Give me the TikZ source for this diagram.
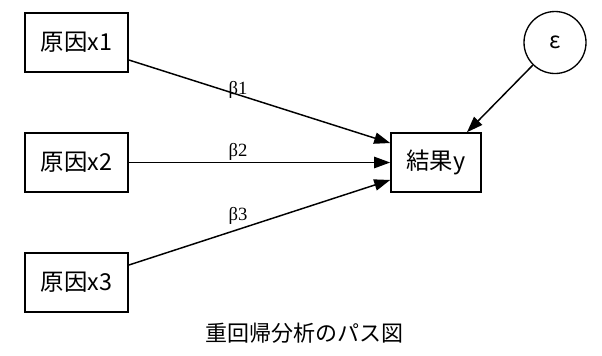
\documentclass[tikz,border=0pt]{standalone}
\usepackage{fontspec}
\setmainfont{Liberation Serif}
\newfontfamily\jpfont{Noto Sans CJK JP}
\usetikzlibrary{arrows.meta}
\begin{document}
\begin{tikzpicture}[x=0.75pt,y=-0.75pt,
  box/.style={draw, line width=1.2pt, minimum width=77.25pt, minimum height=44.25pt, inner sep=0pt, font=\jpfont\fontsize{17.5}{20}\selectfont},
  errc/.style={draw, circle, line width=1pt, minimum size=46.5pt, inner sep=0pt, font=\jpfont\fontsize{17}{20}\selectfont},
  arr/.style={line width=1.1pt, -{Triangle[length=12pt,width=8.5pt]}},
  coef/.style={font=\fontsize{14}{16}\selectfont, inner sep=0pt},
  captext/.style={font=\jpfont\fontsize{16.5}{19}\selectfont, inner sep=0pt}]
\useasboundingbox (0,0) rectangle (602,355);
\node[box] (x1) at (76.5,42.5) {原因x1};
\node[box] (x2) at (76.5,162.5) {原因x2};
\node[box] (x3) at (76.5,282.5) {原因x3};
\node[box, minimum width=67.5pt] (y) at (436,162.5) {結果y};
\node[errc] (eps) at (555,42.5) {ε};
\draw[arr] ([yshift=-13.1pt]x1.east) -- ([yshift=14.6pt]y.west);
\draw[arr] (x2.east) -- (y.west);
\draw[arr] ([yshift=13.1pt]x3.east) -- ([yshift=-13.1pt]y.west);
\draw[arr] (eps) -- ([xshift=23.25pt]y.north);
\node[coef] (b1) at (238,90) {β1};
\node[coef] (b2) at (238,152) {β2};
\node[coef] (b3) at (238,216) {β3};
\node[captext] (caption) at (304,333) {重回帰分析のパス図};
\end{tikzpicture}
\end{document}
